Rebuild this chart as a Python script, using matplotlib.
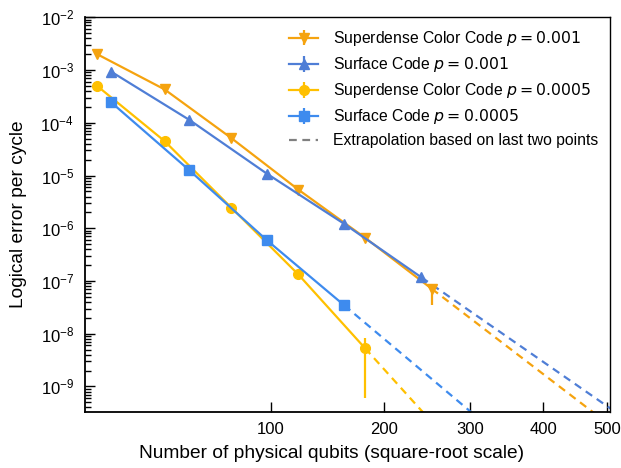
import numpy as np
import matplotlib
matplotlib.use("Agg")
import matplotlib.pyplot as plt
from matplotlib.ticker import FixedLocator, FixedFormatter, LogLocator, NullLocator
from matplotlib.lines import Line2D

plt.rcParams['font.family'] = ['Liberation Sans', 'DejaVu Sans']

# ---- data ----
n_sdcc = [13, 37, 73, 121, 181, 253]
n_surf = [17, 49, 97, 161, 241]
n_sdcc5 = [13, 37, 73, 121, 181]
n_surf5 = [17, 49, 97, 161]

sdcc_p001 = [2.0e-3, 4.3e-4, 5.1e-5, 5.4e-6, 6.6e-7, 7.1e-8]
surf_p001 = [9.3e-4, 1.13e-4, 1.08e-5, 1.21e-6, 1.17e-7]
sdcc_p0005 = [5.0e-4, 4.5e-5, 2.44e-6, 1.33e-7, 5.3e-9]
surf_p0005 = [2.44e-4, 1.25e-5, 5.9e-7, 3.45e-8]

sdcc_p001_err_lo = [0, 0, 0, 0, 0, 3.6e-8]
sdcc_p001_err_hi = [0, 0, 0, 0, 0, 1.2e-8]
surf_p001_err = [0, 0, 0, 0, 0]
sdcc_p0005_err_lo = [0, 0, 0, 0, 4.7e-9]
sdcc_p0005_err_hi = [0, 0, 0, 0, 3.0e-9]
surf_p0005_err = [0, 0, 0, 0]

labels = ["Superdense Color Code $p=0.001$", "Surface Code $p=0.001$",
          "Superdense Color Code $p=0.0005$", "Surface Code $p=0.0005$"]
extrap_label = "Extrapolation based on last two points"
colors = ["#F5A30F", "#4F7ED6", "#FFC000", "#3E8BEE"]
markers = ["v", "^", "o", "s"]
xticks = [100, 200, 300, 400, 500]
xmin, xmax = 10, 505
ymin, ymax = 3.3e-10, 1e-2

fig = plt.figure(figsize=(6.21, 4.68), dpi=100)
ax = fig.add_axes([0.137, 0.120, 0.846, 0.843])
ax.set_xscale('function', functions=(np.sqrt, np.square))
ax.set_yscale('log')

series = [
    (n_sdcc, sdcc_p001, [sdcc_p001_err_lo, sdcc_p001_err_hi]),
    (n_surf, surf_p001, surf_p001_err),
    (n_sdcc5, sdcc_p0005, [sdcc_p0005_err_lo, sdcc_p0005_err_hi]),
    (n_surf5, surf_p0005, surf_p0005_err),
]

handles = []
for (xs, ys, err), lab, c, m in zip(series, labels, colors, markers):
    h = ax.errorbar(xs, ys, yerr=err, color=c, marker=m, markersize=7, lw=1.6,
                    elinewidth=1.6, capsize=0, label=lab, zorder=3)
    handles.append(h)
    # extrapolation from the last two points: log(y) linear in sqrt(n)
    x1, x2 = np.sqrt(xs[-2]), np.sqrt(xs[-1])
    l1, l2 = np.log10(ys[-2]), np.log10(ys[-1])
    slope = (l2 - l1) / (x2 - x1)
    xe = np.linspace(x2, np.sqrt(xmax), 50)
    ye = 10 ** (l2 + slope * (xe - x2))
    ax.plot(xe ** 2, ye, ls=(0, (3.5, 2.5)), color=c, lw=1.6, zorder=2)

handles.append(Line2D([], [], ls=(0, (3.5, 2.5)), color='#808080', lw=1.6))

ax.set_xlim(xmin, xmax)
ax.set_ylim(ymin, ymax)
ax.xaxis.set_major_locator(FixedLocator(xticks))
ax.xaxis.set_major_formatter(FixedFormatter([str(t) for t in xticks]))
ax.xaxis.set_minor_locator(NullLocator())
ax.yaxis.set_major_locator(LogLocator(base=10, numticks=20))
ax.yaxis.set_minor_locator(LogLocator(base=10, subs=np.arange(2, 10), numticks=20))
ax.yaxis.set_major_formatter(matplotlib.ticker.FuncFormatter(
    lambda v, p: r'$\mathregular{10^{%d}}$' % int(round(np.log10(v)))))

ax.tick_params(which='both', direction='in', top=False, right=False, labelsize=12)
ax.tick_params(axis='x', which='major', pad=7)
ax.tick_params(axis='y', which='major', pad=8)
ax.tick_params(which='major', length=7, width=1.0)
ax.tick_params(which='minor', length=4, width=1.0)
for s in ax.spines.values():
    s.set_linewidth(1.0)
ax.spines['left'].set_linewidth(1.3)
ax.spines['bottom'].set_linewidth(1.3)

ax.set_xlabel("Number of physical qubits (square-root scale)", fontsize=13.8)
ax.xaxis.set_label_coords(0.47, -0.083)
ax.set_ylabel("Logical error per cycle", fontsize=13.8)
ax.yaxis.set_label_coords(-0.11, 0.5)

ax.legend(handles, labels + [extrap_label], loc='upper right', frameon=False,
          fontsize=11.3, handlelength=1.8, handletextpad=1.0,
          labelspacing=0.45, borderaxespad=0.35)

fig.savefig("out.png", dpi=100)
